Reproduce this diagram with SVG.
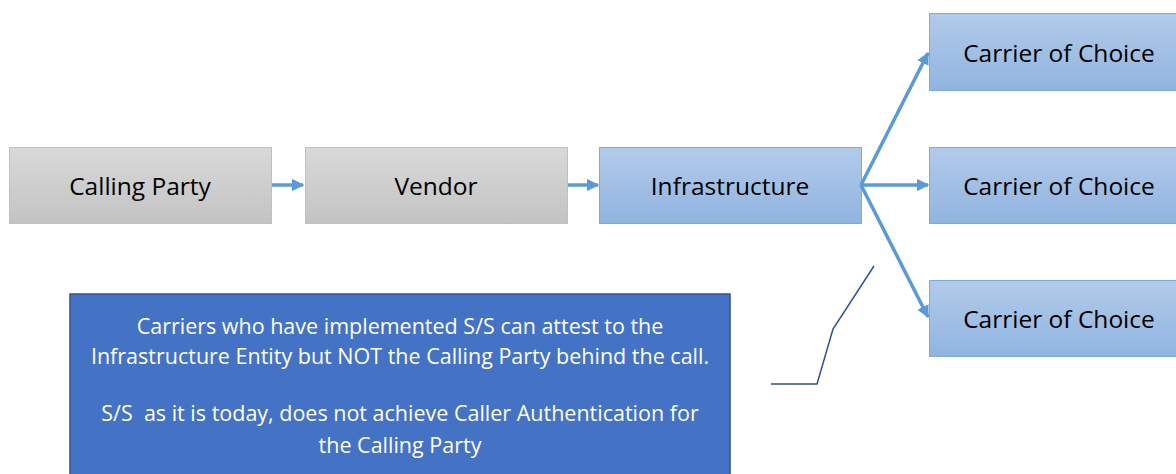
<svg xmlns="http://www.w3.org/2000/svg" width="1176" height="474" viewBox="0 0 1176 474">
<defs>
<linearGradient id="gGray" x1="0" y1="0" x2="0" y2="1"><stop offset="0" stop-color="#d9d9d9"/><stop offset="1" stop-color="#c3c3c3"/></linearGradient>
<linearGradient id="gBlue" x1="0" y1="0" x2="0" y2="1"><stop offset="0" stop-color="#b2cbea"/><stop offset="1" stop-color="#90b4e0"/></linearGradient>
<marker id="ah" viewBox="0 0 10 10" refX="9" refY="5" markerWidth="3.6" markerHeight="3.6" orient="auto" markerUnits="strokeWidth"><path d="M0,0 L10,5 L0,10 Z" fill="#5b9bd5"/></marker>
</defs>
<style>
.gray{fill:url(#gGray);stroke:#bfbfbf;stroke-width:1}
.blue{fill:url(#gBlue);stroke:#7eaadc;stroke-width:1}
.lbl{font-family:"Open Sans","Liberation Sans",sans-serif;font-size:24.5px;fill:#000;text-anchor:middle;dominant-baseline:central}
.note{font-family:"Open Sans","Liberation Sans",sans-serif;font-size:21.5px;fill:#fff;text-anchor:middle;white-space:pre}
.conn{stroke:#5b9bd5;stroke-width:3.5;fill:none;marker-end:url(#ah)}
</style>
<g id="calling-party"><rect class="gray" x="9.5" y="147.5" width="262" height="76"/><text class="lbl" x="140" y="185">Calling Party</text></g>
<g id="vendor"><rect class="gray" x="305.5" y="147.5" width="262" height="76"/><text class="lbl" x="436" y="185">Vendor</text></g>
<g id="infrastructure"><rect class="blue" x="599.5" y="147.5" width="262" height="76"/><text class="lbl" x="730" y="185">Infrastructure</text></g>
<g id="carrier1"><rect class="blue" x="929.5" y="13.5" width="262" height="77"/><text class="lbl" x="1059" y="52">Carrier of Choice</text></g>
<g id="carrier2"><rect class="blue" x="929.5" y="147.5" width="262" height="76"/><text class="lbl" x="1059" y="185">Carrier of Choice</text></g>
<g id="carrier3"><rect class="blue" x="929.5" y="280.5" width="262" height="76"/><text class="lbl" x="1059" y="318">Carrier of Choice</text></g>
<g id="note"><rect x="70" y="294" width="660" height="190" fill="#4472c4" stroke="#2f528f" stroke-width="1.5"/>
<text class="note" x="400" y="334">Carriers who have implemented S/S can attest to the</text>
<text class="note" x="400" y="364">Infrastructure Entity but NOT the Calling Party behind the call.</text>
<text class="note" x="400" y="421" xml:space="preserve">S/S  as it is today, does not achieve Caller Authentication for</text>
<text class="note" x="400" y="453">the Calling Party</text>
</g>
<g id="connectors">
<line class="conn" x1="272" y1="185" x2="303" y2="185"/>
<line class="conn" x1="568" y1="185" x2="598" y2="185"/>
<line class="conn" x1="861" y1="185" x2="928" y2="185"/>
<line class="conn" x1="861" y1="185" x2="928" y2="53"/>
<line class="conn" x1="861" y1="185" x2="928" y2="317"/>
<polyline points="771,384 817,384 833,329 874,266" fill="none" stroke="#2f528f" stroke-width="1.5"/>
</g>
</svg>
